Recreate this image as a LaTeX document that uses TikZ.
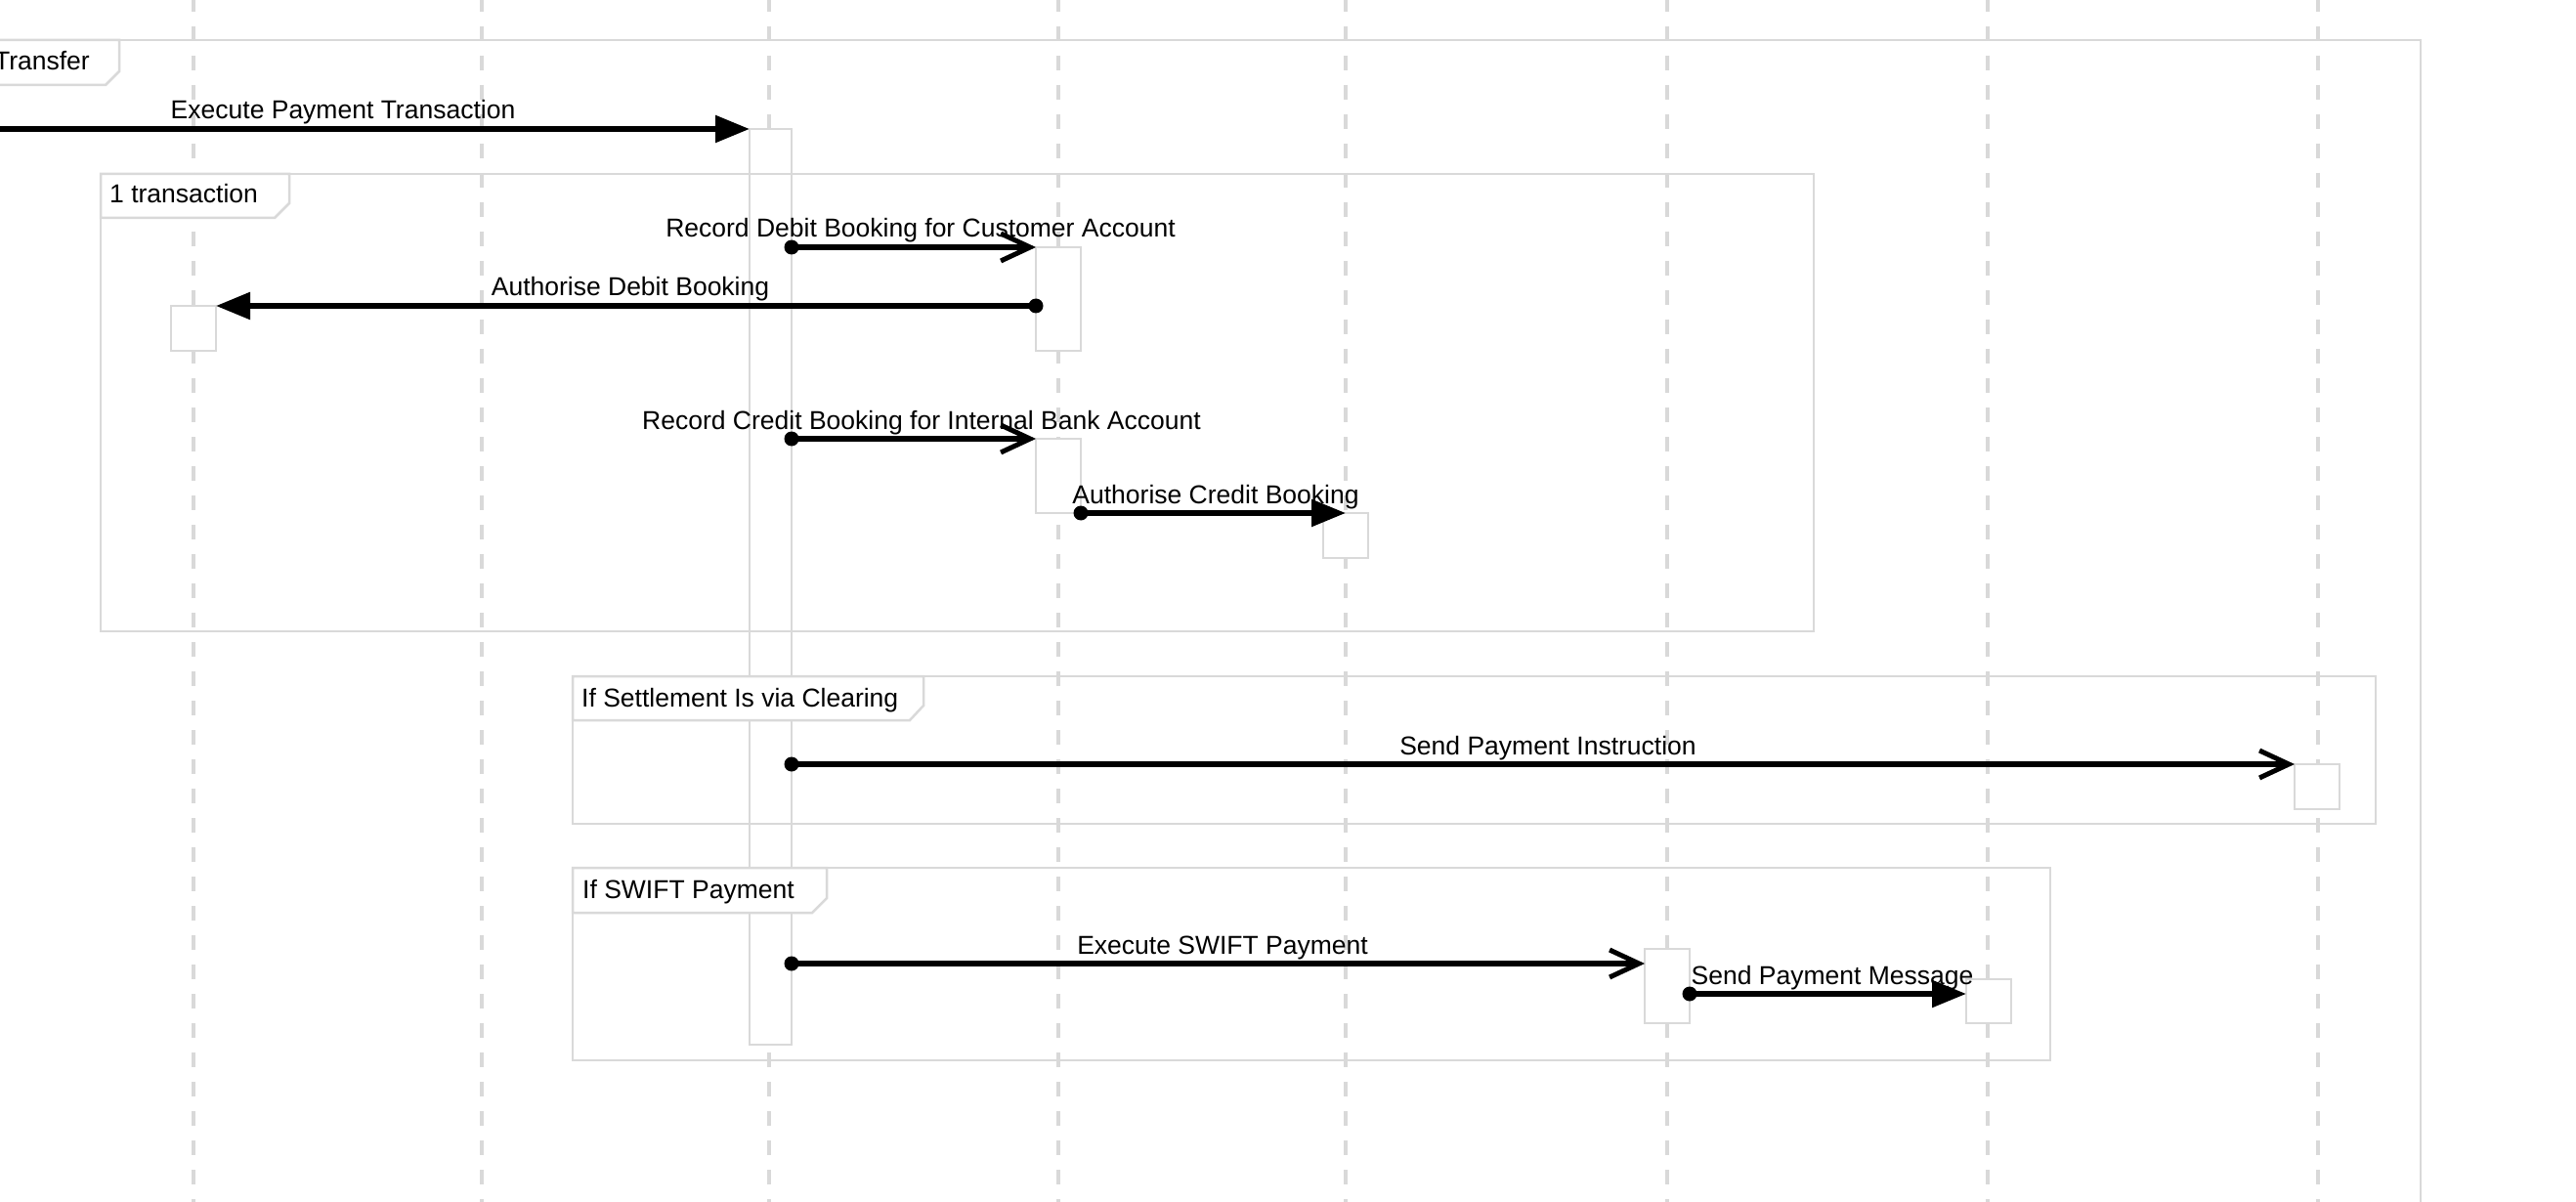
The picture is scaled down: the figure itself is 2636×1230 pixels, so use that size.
\documentclass[tikz,border=0pt]{standalone}
\usepackage{fontspec}
\setmainfont{Liberation Sans}
\usetikzlibrary{arrows.meta}
\definecolor{lg}{RGB}{217,217,217}
\begin{document}
\begin{tikzpicture}[x=1pt,y=-1pt,
  lifeline/.style={draw=lg, line width=4pt, dash pattern=on 15pt off 15pt},
  frameline/.style={draw=lg, line width=2.5pt},
  tabshape/.style={draw=lg, fill=white, line width=2.5pt, line join=miter},
  actbox/.style={draw=lg, fill=white, line width=2.5pt, inner sep=0pt, outer sep=0pt, anchor=north west},
  msgfill/.style={line width=5.5pt, -{Triangle[length=35pt,width=27pt]}},
  msgopen/.style={line width=5.5pt, -{Straight Barb[length=30pt,width=28pt,line width=5pt]}},
  lbl/.style={inner sep=0pt, anchor=base, font=\fontsize{26.5pt}{30pt}\selectfont},
  flbl/.style={inner sep=0pt, anchor=base west, font=\fontsize{26.5pt}{30pt}\selectfont},
  dotr/.style={fill=black}
]
\useasboundingbox (0,0) rectangle (2636,1230);
\clip (0,0) rectangle (2636,1230);
\fill[white] (0,0) rectangle (2636,1230);

% lifelines
\foreach \n/\x in {1/198,2/493,3/787,4/1083,5/1377,6/1706,7/2034,8/2372}{
  \coordinate (Lt\n) at (\x,-3);
  \coordinate (Lb\n) at (\x,1245);
  \draw[lifeline] (Lt\n) -- (Lb\n);
}

% activation boxes
\newcommand{\actbox}[5]{%
  \pgfmathsetmacro{\aw}{#4-#2}\pgfmathsetmacro{\ah}{#5-#3}%
  \node[actbox, minimum width=\aw pt, minimum height=\ah pt] (#1) at (#2,#3) {};}
\actbox{A0}{767}{132}{810}{1069}
\actbox{A1}{175}{313}{221}{359}
\actbox{A2}{1060}{253}{1106}{359}
\actbox{A3}{1060}{449}{1106}{525}
\actbox{A4}{1354}{525}{1400}{571}
\actbox{A5}{2348}{782}{2394}{828}
\actbox{A6}{1683}{971}{1729}{1047}
\actbox{A7}{2012}{1002}{2058}{1047}

% frames
% outer (Transfer)
\draw[frameline] (-10,41) -- (2477,41) -- (2477,1250);
\draw[tabshape] (-10,41) -- (122,41) -- (122,73) -- (108,87) -- (-10,87);
\node[inner sep=0pt, anchor=base east, font=\fontsize{26.5pt}{30pt}\selectfont] (f0) at (92,72) {Transfer};
% 1 transaction
\draw[frameline] (103,178) rectangle (1856,646);
\draw[tabshape] (103,178) -- (296,178) -- (296,208) -- (281,223) -- (103,223) -- cycle;
\node[flbl] (f1) at (112,208) {1 transaction};
% settlement
\draw[frameline] (586,692) rectangle (2431,843);
\draw[tabshape] (586,692) -- (945,692) -- (945,722) -- (931,737) -- (586,737) -- cycle;
\node[flbl] (f2) at (595,723) {If Settlement Is via Clearing};
% SWIFT
\draw[frameline] (586,888) rectangle (2098,1085);
\draw[tabshape] (586,888) -- (846,888) -- (846,919) -- (831,934) -- (586,934) -- cycle;
\node[flbl] (f3) at (596,919) {If SWIFT Payment};

% message endpoints
\coordinate (m1s) at (-70,132);
\coordinate (y2) at (0,253);
\coordinate (y3) at (0,313);
\coordinate (y4) at (0,449);
\coordinate (y6) at (0,782);
\coordinate (y7) at (0,986);
\coordinate (y8) at (0,1017);
\coordinate (m2s) at (A0.east |- y2);
\coordinate (m3s) at (A2.west |- y3);
\coordinate (m4s) at (A0.east |- y4);
\coordinate (m5s) at (A3.south east);
\coordinate (m6s) at (A0.east |- y6);
\coordinate (m7s) at (A0.east |- y7);
\coordinate (m7e) at (A6.west |- y7);
\coordinate (m8s) at (A6.east |- y8);
\coordinate (m8e) at (A7.west |- y8);

% messages
\draw[msgfill] (m1s) -- (A0.north west);
\draw[msgopen] (m2s) -- (A2.north west);
\fill[dotr] (m2s) circle (7.5);
\draw[msgfill] (m3s) -- (A1.north east);
\fill[dotr] (m3s) circle (7.5);
\draw[msgopen] (m4s) -- (A3.north west);
\fill[dotr] (m4s) circle (7.5);
\draw[msgfill] (m5s) -- (A4.north);
\fill[dotr] (m5s) circle (7.5);
\draw[msgopen] (m6s) -- (A5.north west);
\fill[dotr] (m6s) circle (7.5);
\draw[msgopen] (m7s) -- (m7e);
\fill[dotr] (m7s) circle (7.5);
\draw[msgfill] (m8s) -- (m8e);
\fill[dotr] (m8s) circle (7.5);

% labels
\node[lbl] (t1) at (351,122) {Execute Payment Transaction};
\node[lbl] (t2) at (942,243) {Record Debit Booking for Customer Account};
\node[lbl] (t3) at (645,303) {Authorise Debit Booking};
\node[lbl] (t4) at (943,439) {Record Credit Booking for Internal Bank Account};
\node[lbl] (t5) at (1244,515) {Authorise Credit Booking};
\node[lbl] (t6) at (1584,772) {Send Payment Instruction};
\node[lbl] (t7) at (1251,976) {Execute SWIFT Payment};
\node[lbl] (t8) at (1875,1007) {Send Payment Message};
\end{tikzpicture}
\end{document}
